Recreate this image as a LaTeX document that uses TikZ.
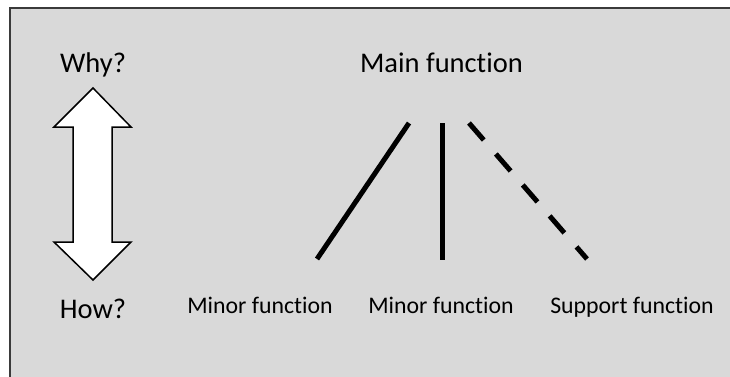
\documentclass[tikz,border=0pt]{standalone}
\usepackage{fontspec}
\setmainfont{Carlito}[Ligatures=NoCommon]
\definecolor{panel}{HTML}{D9D9D9}
\definecolor{frame}{HTML}{3A3A3A}
\begin{document}
\begin{tikzpicture}[x=1pt,y=-1pt,
  title/.style={anchor=base,font=\fontsize{28.5}{30}\selectfont,inner sep=0pt},
  label/.style={anchor=base,font=\fontsize{23.8}{26}\selectfont,inner sep=0pt},
  branch/.style={line width=5pt,black},
  dashedbranch/.style={branch,dash pattern=on 22.5pt off 18.5pt}]
\useasboundingbox (0,0) rectangle (730,376);
% panel background with its top and left frame
\fill[panel] (10,8) rectangle (731,377);
\draw[frame,line width=2pt] (10,377) -- (10,8) -- (731,8);

% headings
\node[title] (why) at (93,72) {Why?};
\node[title] (how) at (93,318) {How?};
\node[title] (main) at (441.5,72) {Main function};

% double-headed arrow between Why and How
\draw[fill=white,line width=1.5pt,line join=miter]
  (93,88) -- (54,127) -- (73,127) -- (73,242) -- (54,242) -- (93,280)
  -- (131,242) -- (112,242) -- (112,127) -- (131,127) -- cycle;

% function labels
\node[label] (minA) at (260,313) {Minor function};
\node[label] (minB) at (441,313) {Minor function};
\node[label] (supp) at (632,313) {Support function};

% branch end points
\coordinate (aTop) at (409,123);
\coordinate (aBot) at (317,259);
\coordinate (bTop) at (442,123);
\coordinate (bBot) at (442,260);
\coordinate (cTop) at (469,123);
\coordinate (cBot) at (587,259);

\draw[branch] (aBot) -- (aTop);
\draw[branch] (bTop) -- (bBot);
\draw[dashedbranch] (cTop) -- (cBot);
\end{tikzpicture}
\end{document}
